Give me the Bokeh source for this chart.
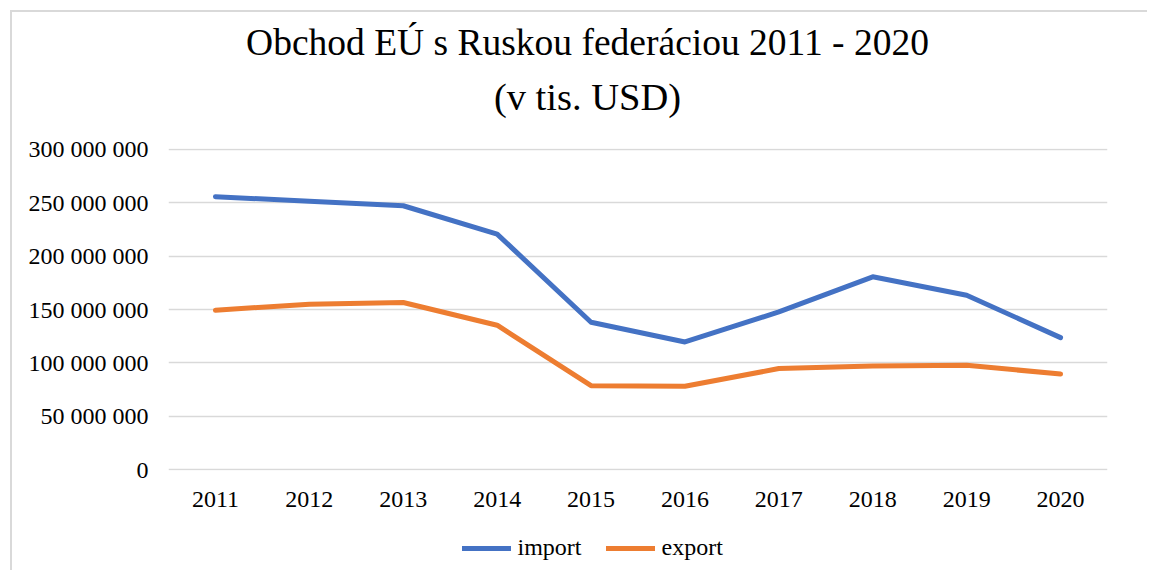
from bokeh.plotting import figure
from bokeh.layouts import column
from bokeh.models import FixedTicker, Label, Legend, LegendItem
from bokeh.embed import file_html
from bokeh.resources import INLINE

years = ["2011", "2012", "2013", "2014", "2015", "2016", "2017", "2018", "2019", "2020"]
import_vals = [255.6e6, 251.3e6, 247.1e6, 220.6e6, 138.1e6, 119.6e6, 147.8e6, 180.6e6, 163.4e6, 123.7e6]
export_vals = [149.3e6, 155.0e6, 156.6e6, 135.3e6, 78.7e6, 78.1e6, 94.7e6, 97.1e6, 97.8e6, 89.6e6]
y_ticks = [0, 50e6, 100e6, 150e6, 200e6, 250e6, 300e6]
y_tick_labels = ["0", "50 000 000", "100 000 000", "150 000 000", "200 000 000", "250 000 000", "300 000 000"]
title_lines = ["Obchod EÚ s Ruskou federáciou 2011 - 2020", "(v tis. USD)"]
series_names = ["import", "export"]

FONT = "Liberation Serif"
BLUE = "#4472C4"
ORANGE = "#ED7D31"
W = 1135


def blank(height):
    f = figure(width=W, height=height, x_range=(0, 1), y_range=(0, 1),
               output_backend="svg", toolbar_location=None,
               x_axis_location=None, y_axis_location=None,
               min_border=0, min_border_left=0, min_border_right=0,
               min_border_top=0, min_border_bottom=0)
    f.outline_line_color = None
    f.xgrid.visible = False
    f.ygrid.visible = False
    return f


# header with the two-line title (frame is aligned with the main chart's frame)
head = blank(121)
for txt, yy, fs in zip(title_lines, [91, 37], ["37.5px", "38.5px"]):
    head.add_layout(Label(x=419, y=yy, x_units="screen", y_units="screen", text=txt,
                          text_font=FONT, text_font_size=fs, text_color="#000000",
                          text_align="center", text_baseline="alphabetic"))

# main chart
p = figure(x_range=years, y_range=(-0.7e6, 300.7e6), width=W, height=387,
           output_backend="svg", toolbar_location=None,
           min_border_left=156, min_border_right=40, min_border_top=15, min_border_bottom=50)
p.outline_line_color = None
p.x_range.range_padding = 0
p.xgrid.grid_line_color = None
p.ygrid.grid_line_color = "#d9d9d9"
p.ygrid.grid_line_width = 1.5
p.yaxis.ticker = FixedTicker(ticks=y_ticks)
p.yaxis.major_label_overrides = {t: l for t, l in zip(y_ticks, y_tick_labels)}
for ax in (p.xaxis, p.yaxis):
    ax.axis_line_color = None
    ax.major_tick_line_color = None
    ax.minor_tick_line_color = None
    ax.major_label_text_font = FONT
    ax.major_label_text_font_size = "24px"
    ax.major_label_text_color = "#000000"
p.yaxis.major_label_standoff = 14
p.xaxis.major_label_standoff = 15

p.line(years, import_vals, line_color=BLUE, line_width=5, line_cap="round", line_join="round")
p.line(years, export_vals, line_color=ORANGE, line_width=5, line_cap="round", line_join="round")

# legend strip: key renderers sit outside the strip's visible range, only their legend swatches show
leg = blank(50)
g1 = leg.line(x=[-5, -4], y=[-5, -5], line_color=BLUE, line_width=5, line_cap="round")
g2 = leg.line(x=[-5, -4], y=[-5, -5], line_color=ORANGE, line_width=5, line_cap="round")
legend = Legend(items=[LegendItem(label=series_names[0], renderers=[g1]),
                       LegendItem(label=series_names[1], renderers=[g2])],
                orientation="horizontal", location=(293.5, 9),
                glyph_width=49, glyph_height=24, label_standoff=7, spacing=24,
                padding=0, margin=0, border_line_color=None, background_fill_alpha=0,
                label_text_font=FONT, label_text_font_size="24px", label_text_color="#000000",
                label_height=24)
leg.add_layout(legend, "center")

layout = column(head, p, leg, spacing=0)
layout.styles = {"border-top": "2px solid #d9d9d9", "border-left": "2px solid #d9d9d9",
                 "margin-left": "10px", "margin-top": "10px"}

open("out.html", "w").write(file_html(layout, INLINE))
